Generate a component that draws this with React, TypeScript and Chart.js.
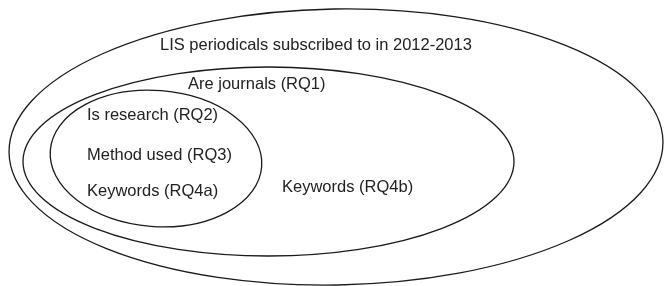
import React, { useEffect, useRef } from "react";
import { Chart, registerables } from "chart.js";

Chart.register(...registerables);

// Euler diagram sets (data units on a 0-664 x 0-286 plane)
const setNames = ["LIS periodicals", "Journals", "Research"];
const setCenterX = [336, 268.5, 156];
const setCenterY = [147, 161.5, 158.5];
const setRadiusX = [327, 245.5, 106];
const setRadiusY = [138, 94.5, 68];
const setTiltDeg = [-1, 0, 4.5];

// Text labels (left x, baseline y)
const labelTexts = [
  "LIS periodicals subscribed to in 2012-2013",
  "Are journals (RQ1)",
  "Is research (RQ2)",
  "Method used (RQ3)",
  "Keywords (RQ4a)",
  "Keywords (RQ4b)",
];
const labelX = [160, 188, 87, 87, 87, 282];
const labelY = [49.5, 89, 120, 160, 196, 192];

const eulerPlugin = {
  id: "eulerPlugin",
  afterDatasetsDraw(chart: any) {
    const { ctx, scales } = chart;
    const xs = scales.x;
    const ys = scales.y;
    ctx.save();
    ctx.strokeStyle = "#1a1a1a";
    ctx.lineWidth = 1.3;
    for (let i = 0; i < setNames.length; i++) {
      const cx = xs.getPixelForValue(setCenterX[i]);
      const cy = ys.getPixelForValue(setCenterY[i]);
      const rx = Math.abs(xs.getPixelForValue(setCenterX[i] + setRadiusX[i]) - cx);
      const ry = Math.abs(ys.getPixelForValue(setCenterY[i] + setRadiusY[i]) - cy);
      ctx.beginPath();
      ctx.ellipse(cx, cy, rx, ry, (setTiltDeg[i] * Math.PI) / 180, 0, Math.PI * 2);
      ctx.stroke();
    }
    ctx.fillStyle = "#222";
    ctx.font = '16.5px "Liberation Sans", Arial, sans-serif';
    ctx.textAlign = "left";
    ctx.textBaseline = "alphabetic";
    for (let i = 0; i < labelTexts.length; i++) {
      ctx.fillText(labelTexts[i], xs.getPixelForValue(labelX[i]), ys.getPixelForValue(labelY[i]));
    }
    ctx.restore();
  },
};

export default function App() {
  const ref = useRef<HTMLCanvasElement | null>(null);
  useEffect(() => {
    document.body.style.margin = "0";
    const canvas = ref.current;
    if (!canvas) return;
    const chart = new Chart(canvas, {
      type: "scatter",
      data: {
        datasets: [
          {
            label: "labels",
            data: labelX.map((x, i) => ({ x, y: labelY[i] })),
            pointRadius: 0,
            showLine: false,
          },
        ],
      },
      options: {
        animation: false,
        responsive: false,
        devicePixelRatio: 1,
        layout: { padding: 0 },
        plugins: { legend: { display: false }, tooltip: { enabled: false } },
        scales: {
          x: { type: "linear", min: 0, max: 664, display: false },
          y: { type: "linear", min: 0, max: 286, reverse: true, display: false },
        },
      },
      plugins: [eulerPlugin],
    });
    return () => chart.destroy();
  }, []);
  return (
    <div style={{ position: "fixed", left: 0, top: 0, width: 664, height: 286, background: "#fff" }}>
      <canvas ref={ref} width={664} height={286} />
    </div>
  );
}
